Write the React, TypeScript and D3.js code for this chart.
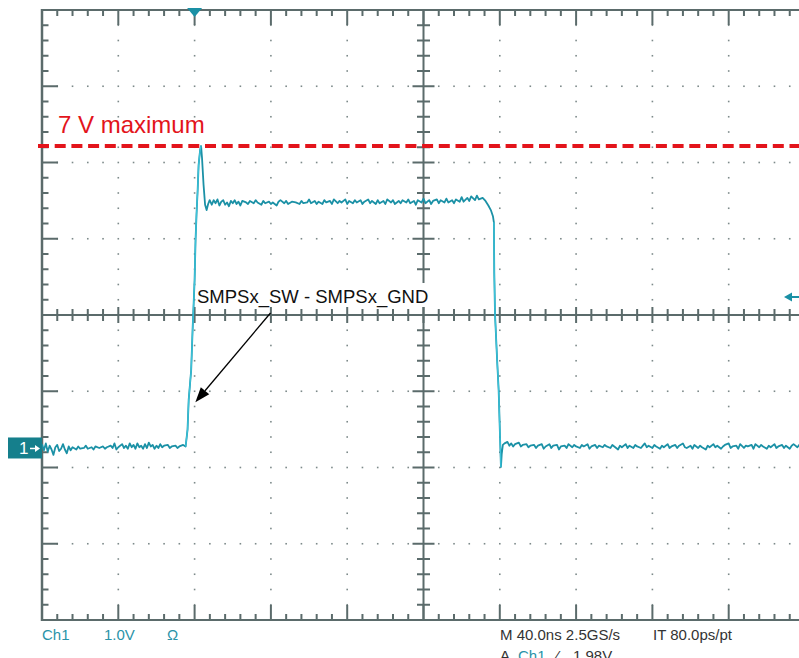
import React from "react";
import * as d3 from "d3";

// ---- Scope settings ----
const X_DIVS = 10;
const Y_DIVS = 8;
const MINOR_PER_DIV = 5;
const TIME_PER_DIV = 40; // ns
const VOLTS_PER_DIV = 1.0; // V
const T_START = -80; // ns at left edge of graticule
const V_BOTTOM = -2.256; // V at bottom edge of graticule
const TRIGGER_LEVEL = 1.98; // V
const LIMIT_LEVEL = 3.96; // V (dashed "7 V maximum" line)

const LIMIT_LABEL = "7 V maximum";
const ANNOTATION_LABEL = "SMPSx_SW - SMPSx_GND";
const STATUS_LEFT = ["Ch1", "1.0V", "Ω"];
const STATUS_RIGHT_1 = ["M 40.0ns 2.5GS/s", "IT 80.0ps/pt"];
const STATUS_RIGHT_2 = ["A", "Ch1", "⁄", "1.98V"];

// ---- Trace samples [time ns, volts] ----
const preTrigger: [number, number][] = [
  [-80, 0.05], [-79, -0.03], [-78, 0.06], [-77, -0.05], [-76, 0.03], [-75, -0.02], [-74, -0.09],
  [-73, 0.01], [-72, 0.04], [-71, -0.04], [-70, -0.01], [-69, 0.05], [-68, -0.02], [-67, -0.07],
  [-66, 0.02], [-65, -0.03], [-64, 0.01], [-62, -0.02], [-61, 0.02], [-60, -0.01], [-58, 0.0],
  [-57, 0.03], [-56, -0.01], [-54, 0.01], [-53, -0.02], [-52, 0.02], [-50, 0.0], [-48, 0.02],
  [-47, -0.01], [-46, 0.01], [-44, 0.03], [-43, 0.0], [-42, 0.06], [-41, -0.02], [-40, 0.01],
  [-38, 0.05], [-37, 0.0], [-36, 0.03], [-35, -0.01], [-34, 0.06], [-33, 0.01], [-32, 0.04],
  [-31, -0.01], [-30, 0.06], [-29, 0.01], [-28, 0.03], [-27, -0.01], [-26, 0.05], [-25, 0.0],
  [-24, 0.07], [-23, 0.02], [-22, 0.04], [-21, -0.01], [-20, 0.03], [-19, 0.0], [-18, 0.05],
  [-17, 0.01], [-16, 0.03], [-14, 0.04], [-13, 0.0], [-12, 0.02], [-10, 0.03], [-9, 0.0],
  [-8, 0.02], [-6, 0.04],
];

const risingEdge: [number, number][] = [
  [-4.7, 0.02], [-3.7, 0.24], [-3.1, 0.63], [-1.8, 1.02], [-1.05, 1.55], [0, 2.2],
  [0.5, 2.73], [1.0, 3.06], [1.6, 3.38], [2.1, 3.71], [2.9, 3.91], [3.4, 3.96],
  [3.9, 3.8], [4.7, 3.45], [5.5, 3.19], [6.3, 3.12], [7.1, 3.2], [7.9, 3.25],
];

const plateau: [number, number][] = [
  [9, 3.19], [10, 3.25], [11, 3.21], [12, 3.26], [13, 3.18], [14, 3.23], [15, 3.25], [16, 3.19],
  [17, 3.22], [18, 3.17], [19, 3.24], [20, 3.21], [21, 3.25], [22, 3.2], [23, 3.23], [24, 3.18],
  [25, 3.24], [27, 3.22], [28, 3.2], [29, 3.24], [31, 3.21], [32, 3.25], [33, 3.22], [35, 3.19],
  [36, 3.24], [37, 3.21], [39, 3.23], [40, 3.2], [41, 3.22], [43, 3.18], [44, 3.23], [45, 3.25],
  [47, 3.21], [48, 3.24], [49, 3.2], [51, 3.23], [53, 3.22], [55, 3.2], [56, 3.24], [57, 3.21],
  [59, 3.22], [60, 3.26], [61, 3.21], [63, 3.24], [64, 3.2], [65, 3.23], [67, 3.2], [68, 3.25],
  [69, 3.22], [71, 3.24], [72, 3.2], [73, 3.26], [75, 3.21], [76, 3.24], [77, 3.22], [79, 3.26],
  [80, 3.2], [81, 3.24], [83, 3.21], [84, 3.25], [85, 3.22], [87, 3.25], [88, 3.2], [89, 3.23],
  [91, 3.26], [92, 3.21], [93, 3.24], [95, 3.2], [96, 3.25], [97, 3.21], [99, 3.24], [100, 3.2],
  [101, 3.26], [103, 3.22], [104, 3.25], [105, 3.2], [107, 3.24], [108, 3.21], [109, 3.25],
  [111, 3.22], [112, 3.26], [113, 3.21], [115, 3.24], [116, 3.19], [117, 3.25], [119, 3.22],
  [120, 3.27], [121, 3.21], [123, 3.25], [124, 3.2], [125, 3.24], [127, 3.26], [128, 3.21],
  [129, 3.25], [131, 3.22], [132, 3.27], [133, 3.22], [135, 3.25], [136, 3.21], [137, 3.26],
  [139, 3.23], [140, 3.29], [141, 3.23], [143, 3.28], [144, 3.24], [145, 3.3], [147, 3.25],
  [148, 3.31], [149, 3.26], [151, 3.28],
];

const fallingEdge: [number, number][] = [
  [152.5, 3.24], [154, 3.18], [155.3, 3.12], [156.4, 3.04], [156.9, 2.96], [157.1, 2.3],
  [157.5, 1.75], [158.6, 1.15], [159.4, 0.76], [160.3, 0.0], [160.6, -0.25], [161.0, -0.08],
  [161.6, 0.04], [162.5, 0.06],
];

const postFall: [number, number][] = [
  [164, 0.08], [165, 0.03], [166, 0.06], [167, 0.02], [168, 0.05], [170, 0.07], [171, 0.02],
  [172, 0.04], [174, 0.05], [175, 0.01], [176, 0.03], [178, 0.04], [179, 0.0], [180, 0.03],
  [182, 0.05], [183, -0.01], [184, 0.02], [186, 0.05], [187, 0.0], [188, 0.03], [190, 0.04],
  [191, -0.02], [192, 0.02], [194, 0.03], [195, 0.0], [196, 0.05], [198, 0.01], [199, 0.04],
  [200, 0.02], [202, 0.0], [203, 0.04], [204, 0.02], [206, 0.05], [207, -0.01], [208, 0.02],
  [210, 0.04], [211, 0.0], [212, 0.03], [214, 0.01], [215, 0.04], [216, 0.02], [218, 0.0],
  [219, 0.04], [220, 0.02], [222, -0.02], [223, 0.03], [224, 0.01], [226, 0.05], [227, 0.0],
  [228, 0.03], [230, 0.0], [231, 0.04], [232, 0.02], [234, 0.0], [235, 0.03], [236, 0.06],
  [237, 0.01], [238, 0.03], [240, 0.0], [241, 0.04], [242, 0.02], [244, -0.01], [245, 0.03],
  [246, 0.01], [248, 0.05], [249, 0.0], [250, 0.02], [252, 0.04], [253, 0.0], [254, 0.03],
  [256, 0.06], [257, 0.01], [258, 0.0], [260, 0.03], [261, -0.01], [262, 0.04], [264, 0.0],
  [265, 0.03], [266, 0.01], [268, -0.02], [269, 0.03], [270, 0.01], [272, 0.05], [273, 0.01],
  [274, 0.03], [276, -0.01], [277, 0.02], [278, 0.04], [280, 0.06], [281, 0.0], [282, 0.02],
  [284, 0.03], [285, -0.01], [286, 0.05], [288, 0.0], [289, 0.03], [290, 0.02], [292, 0.04],
  [293, -0.01], [294, 0.05], [296, 0.01], [297, 0.04], [298, 0.02], [300, -0.01], [301, 0.03],
  [302, 0.01], [304, 0.05], [305, 0.0], [306, 0.02], [308, 0.04], [309, 0.0], [310, 0.03],
  [312, -0.01], [313, 0.03], [314, 0.05], [316, 0.01], [317, 0.04], [318, 0.02], [320, 0.01],
];

const FRAME = "#5b6b6b";
const DOT = "#7d8a8a";
const TEAL = "#1a90a5";
const TEAL_TEXT = "#2a93a8";
const TRACE = "#1b91a6";
const TRACE_EDGE = "#3cc3da";
const RED = "#e3141b";
const FONT = "'Liberation Sans', Arial, Helvetica, sans-serif";

export default function App() {
  const W = 799;
  const H = 658;
  const left = 42;
  const top = 10;
  const right = 805;
  const bottom = 620;

  const x = d3
    .scaleLinear()
    .domain([T_START, T_START + X_DIVS * TIME_PER_DIV])
    .range([left, right]);
  const y = d3
    .scaleLinear()
    .domain([V_BOTTOM, V_BOTTOM + Y_DIVS * VOLTS_PER_DIV])
    .range([bottom, top]);

  const minorT = TIME_PER_DIV / MINOR_PER_DIV;
  const minorV = VOLTS_PER_DIV / MINOR_PER_DIV;
  const xMinor = d3.range(0, X_DIVS * MINOR_PER_DIV + 1).map((i) => x(T_START + i * minorT));
  const yMinor = d3.range(0, Y_DIVS * MINOR_PER_DIV + 1).map((i) => y(V_BOTTOM + i * minorV));
  const xMajorIdx = d3.range(1, X_DIVS + 1);
  const yMajorIdx = d3.range(1, Y_DIVS);
  const xc = x(T_START + (X_DIVS / 2) * TIME_PER_DIV);
  const yc = y(V_BOTTOM + (Y_DIVS / 2) * VOLTS_PER_DIV);

  const trace = [...preTrigger, ...risingEdge, ...plateau, ...fallingEdge, ...postFall];
  const line = d3
    .line<[number, number]>()
    .x((d) => x(d[0]))
    .y((d) => y(d[1]));

  const dots: JSX.Element[] = [];
  xMajorIdx.forEach((k) => {
    if (k === X_DIVS / 2) return;
    const xx = xMinor[k * MINOR_PER_DIV];
    yMinor.forEach((yy, j) => {
      if (j === 0 || j === yMinor.length - 1) return;
      dots.push(<rect key={`v${k}-${j}`} x={xx - 0.8} y={yy - 0.8} width={1.6} height={1.6} fill={DOT} />);
    });
  });
  yMajorIdx.forEach((k) => {
    if (k === Y_DIVS / 2) return;
    const yy = yMinor[k * MINOR_PER_DIV];
    xMinor.forEach((xx, j) => {
      if (j === 0) return;
      if (j % MINOR_PER_DIV === 0) return;
      dots.push(<rect key={`h${k}-${j}`} x={xx - 0.8} y={yy - 0.8} width={1.6} height={1.6} fill={DOT} />);
    });
  });

  const ticks: JSX.Element[] = [];
  xMinor.forEach((xx, j) => {
    if (j === 0) return;
    const major = j % MINOR_PER_DIV === 0;
    const lenEdge = major ? 15 : 6;
    ticks.push(<line key={`tt${j}`} x1={xx} x2={xx} y1={top} y2={top + lenEdge} />);
    ticks.push(<line key={`tb${j}`} x1={xx} x2={xx} y1={bottom} y2={bottom - lenEdge} />);
    const lc = major ? 8 : 6;
    ticks.push(<line key={`tc${j}`} x1={xx} x2={xx} y1={yc - lc} y2={yc + lc} />);
  });
  yMinor.forEach((yy, j) => {
    if (j === 0 || j === yMinor.length - 1) return;
    const major = j % MINOR_PER_DIV === 0;
    const lenEdge = major ? 16 : 6.5;
    ticks.push(<line key={`tl${j}`} x1={left} x2={left + lenEdge} y1={yy} y2={yy} />);
    const lc = major ? 11 : 6.5;
    ticks.push(<line key={`tv${j}`} x1={xc - lc} x2={xc + lc} y1={yy} y2={yy} />);
  });

  const x0 = x(0);
  const g0 = y(0);
  const yTrig = y(TRIGGER_LEVEL);
  const yLim = y(LIMIT_LEVEL);

  // annotation arrow
  const ax1 = xc - 153, ay1 = yc - 2;
  const ax2 = x(0.4), ay2 = y(0.6);
  const ang = Math.atan2(ay2 - ay1, ax2 - ax1);
  const hl = 15, hw = 5.5;
  const bx = ax2 - hl * Math.cos(ang), by = ay2 - hl * Math.sin(ang);
  const head = `${ax2},${ay2} ${bx + hw * Math.sin(ang)},${by - hw * Math.cos(ang)} ${bx - hw * Math.sin(ang)},${by + hw * Math.cos(ang)}`;

  return (
    <svg
      width={W}
      height={H}
      style={{ position: "absolute", left: 0, top: 0, background: "#fff" }}
      fontFamily={FONT}
    >
      <rect x={0} y={0} width={W} height={H} fill="#fff" />
      <g>{dots}</g>
      <g stroke={FRAME} strokeWidth={2}>
        {ticks}
        <line x1={left} x2={right} y1={yc} y2={yc} />
        <line x1={xc} x2={xc} y1={top} y2={bottom} />
        <line x1={left} x2={right} y1={top} y2={top} />
        <line x1={left} x2={right} y1={bottom} y2={bottom} />
        <line x1={left} x2={left} y1={top - 1} y2={bottom + 1} strokeWidth={2.5} />
      </g>

      {/* limit line */}
      <line x1={38} x2={W} y1={yLim} y2={yLim} stroke={RED} strokeWidth={4} strokeDasharray="11 5.7" />
      <text x={58} y={yLim - 13} fill={RED} fontSize={24}>
        {LIMIT_LABEL}
      </text>

      {/* annotation label */}
      <rect x={196} y={283} width={236} height={24} fill="#fff" />
      <text x={197} y={303} fontSize={18.5} fill="#111">
        {ANNOTATION_LABEL}
      </text>

      {/* trace */}
      <path d={line(trace) || ""} fill="none" stroke={TRACE} strokeWidth={1.8} strokeLinejoin="round" />
      <path d={line(risingEdge.slice(0, 12)) || ""} fill="none" stroke={TRACE_EDGE} strokeWidth={1.3} />
      <path d={line(fallingEdge.slice(4, 11)) || ""} fill="none" stroke={TRACE_EDGE} strokeWidth={1.3} />

      {/* annotation arrow */}
      <line x1={ax1} y1={ay1} x2={bx} y2={by} stroke="#000" strokeWidth={1.3} />
      <polygon points={head} fill="#000" />

      {/* trigger position marker */}
      <polygon points={`${x0 - 7.5},${top - 2} ${x0 + 7.5},${top - 2} ${x0},${top + 7}`} fill={TEAL} />

      {/* ground marker */}
      <rect x={8} y={g0 - 10.5} width={34} height={21} fill="#157f8c" />
      <text x={19} y={g0 + 6} fill="#fff" fontSize={17}>
        1
      </text>
      <line x1={30} x2={37} y1={g0 + 0.5} y2={g0 + 0.5} stroke="#fff" strokeWidth={1.5} />
      <polygon points={`${40},${g0 + 0.5} ${35},${g0 - 3} ${35},${g0 + 4}`} fill="#fff" />

      {/* trigger level arrow */}
      <polygon points={`${784},${yTrig} ${792},${yTrig - 4.5} ${792},${yTrig + 4.5}`} fill={TEAL} />
      <line x1={790} x2={W} y1={yTrig} y2={yTrig} stroke={TEAL} strokeWidth={2} />

      {/* status text */}
      <g fontSize={15}>
        <text x={42} y={640} fill={TEAL_TEXT}>{STATUS_LEFT[0]}</text>
        <text x={104} y={640} fill={TEAL_TEXT}>{STATUS_LEFT[1]}</text>
        <text x={167} y={640} fill={TEAL_TEXT}>{STATUS_LEFT[2]}</text>
        <text x={500} y={640} fill="#333">{STATUS_RIGHT_1[0]}</text>
        <text x={653} y={640} fill="#333">{STATUS_RIGHT_1[1]}</text>
        <text x={500} y={661} fill="#333">{STATUS_RIGHT_2[0]}</text>
        <text x={518} y={661} fill={TEAL_TEXT}>{STATUS_RIGHT_2[1]}</text>
        <text x={556} y={661} fill="#333">{STATUS_RIGHT_2[2]}</text>
        <text x={573} y={661} fill="#333">{STATUS_RIGHT_2[3]}</text>
      </g>
    </svg>
  );
}
